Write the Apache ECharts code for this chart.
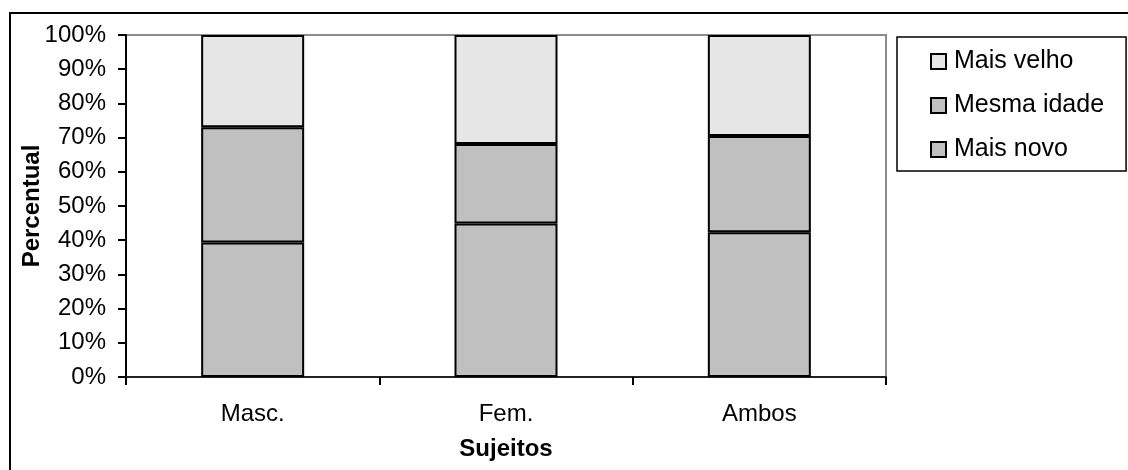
<!DOCTYPE html>
<html>
<head>
<meta charset="utf-8">
<title>Percentual por sujeitos</title>
<script src="https://cdn.jsdelivr.net/npm/echarts@6/dist/echarts.min.js"></script>
<style>
  html, body { margin: 0; padding: 0; background: #fff; }
  #chart { width: 1128px; height: 470px; }
</style>
</head>
<body>
<div id="chart"></div>
<script>
// Categories and stacked percentages (bottom to top)
const categories = ['Masc.', 'Fem.', 'Ambos'];
const maisNovo = [39.3, 44.9, 42.3];
const mesmaIdade = [33.7, 23.2, 28.2];
const maisVelho = [27.0, 31.9, 29.5];
const legendOrder = ['Mais velho', 'Mesma idade', 'Mais novo'];

const FONT = "'Liberation Sans', Arial, sans-serif";

const chart = echarts.init(document.getElementById('chart'), null, { renderer: 'canvas' });

function barSeries(name, data, color) {
  return {
    name: name,
    type: 'bar',
    stack: 'total',
    data: data,
    barWidth: 103,
    itemStyle: { color: color, borderColor: '#000', borderWidth: 2 },
    emphasis: { disabled: true }
  };
}

chart.setOption({
  animation: false,
  backgroundColor: '#fff',
  graphic: [{
    type: 'rect',
    z: -10,
    shape: { x: 10, y: 13, width: 1130, height: 470 },
    style: { fill: 'none', stroke: '#000', lineWidth: 2 }
  }],
  grid: {
    left: 126, right: 242, top: 35, bottom: 93,
    outerBoundsMode: 'none',
    containLabel: false,
    show: true, borderColor: '#8c8c8c', borderWidth: 2, backgroundColor: 'transparent'
  },
  legend: {
    data: legendOrder,
    orient: 'vertical',
    left: 897, top: 37,
    padding: [12, 22, 9, 33],
    itemGap: 19,
    itemWidth: 15, itemHeight: 15,
    icon: 'rect',
    borderColor: '#000', borderWidth: 1.5,
    itemStyle: { borderColor: '#000', borderWidth: 2 },
    textStyle: { fontFamily: FONT, fontSize: 25, color: '#000', lineHeight: 25, padding: [0, 0, 0, 3] },
    selectedMode: false
  },
  xAxis: {
    type: 'category',
    data: categories,
    name: 'Sujeitos',
    nameLocation: 'middle',
    nameGap: 60,
    nameMoveOverlap: false,
    nameTextStyle: { fontFamily: FONT, fontSize: 24, fontWeight: 'bold', color: '#000' },
    axisLine: { lineStyle: { color: '#222', width: 2 } },
    axisTick: { show: true, length: 8, lineStyle: { color: '#000', width: 2 } },
    axisLabel: { fontFamily: FONT, fontSize: 24, color: '#000', margin: 25 },
    splitLine: { show: false }
  },
  yAxis: {
    type: 'value',
    min: 0, max: 100, interval: 10,
    name: 'Percentual',
    nameLocation: 'middle',
    nameGap: 82,
    nameRotate: 90,
    nameMoveOverlap: false,
    nameTextStyle: { fontFamily: FONT, fontSize: 24, fontWeight: 'bold', color: '#000' },
    axisLine: { show: true, lineStyle: { color: '#000', width: 2 } },
    axisTick: { show: true, length: 8, lineStyle: { color: '#000', width: 2 } },
    axisLabel: { fontFamily: FONT, fontSize: 24, color: '#000', margin: 20, formatter: '{value}%' },
    splitLine: { show: false }
  },
  series: [
    barSeries('Mais novo', maisNovo, '#c0c0c0'),
    barSeries('Mesma idade', mesmaIdade, '#c0c0c0'),
    barSeries('Mais velho', maisVelho, '#e6e6e6')
  ]
});
</script>
</body>
</html>
